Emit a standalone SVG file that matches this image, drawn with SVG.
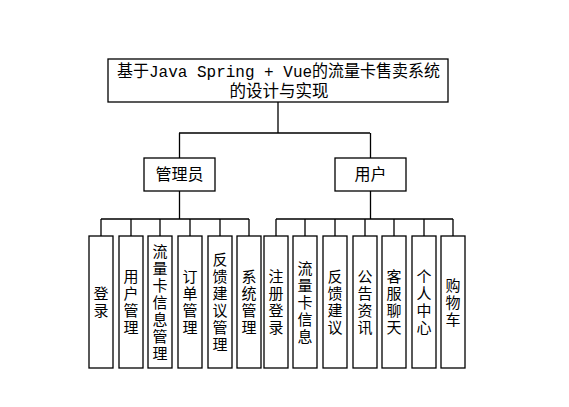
<svg xmlns="http://www.w3.org/2000/svg" width="569" height="407" viewBox="0 0 569 407">
<style>
.box{fill:#fff;stroke:#000;stroke-width:1.3}
.ln{fill:none;stroke:#000;stroke-width:1.3}
.t{font-family:"Noto Sans CJK SC","Liberation Sans",sans-serif;fill:#000;text-anchor:middle}
.tt{font-family:"Liberation Mono","Noto Sans CJK SC",monospace;font-size:16.5px;fill:#000;text-anchor:middle}
.m{font-size:16px}
.v{font-size:15px;writing-mode:vertical-rl;letter-spacing:2px}
</style>
<rect width="569" height="407" fill="#fff"/>
<g id="connectors">
<path class="ln" d="M278 102V133M179 133H370M179.5 133V158M370.5 133V158"/>
<path class="ln" d="M179.5 191V219M101 219H249M101 219V236M131 219V236M160 219V236M190 219V236M220 219V236M249 219V236"/>
<path class="ln" d="M370.5 191V219M276 219H453M276 219V236M305 219V236M335 219V236M365 219V236M394 219V236M424 219V236M453 219V236"/>
</g>
<g id="title">
<rect class="box" x="108" y="59" width="340" height="43"/>
<text class="tt" x="278.5" y="77" textLength="323" lengthAdjust="spacingAndGlyphs">基于Java Spring + Vue的流量卡售卖系统</text>
<text class="tt" x="279" y="97">的设计与实现</text>
</g>
<g id="admin">
<rect class="box" x="144" y="158" width="71" height="33"/>
<text class="t m" x="179.5" y="180">管理员</text>
</g>
<g id="user">
<rect class="box" x="335" y="158" width="71" height="33"/>
<text class="t m" x="370.5" y="180">用户</text>
</g>
<g id="a1"><rect class="box" x="89" y="236" width="24" height="132"/><text class="t v" x="101" y="303">登录</text></g>
<g id="a2"><rect class="box" x="119" y="236" width="24" height="132"/><text class="t v" x="131" y="303">用户管理</text></g>
<g id="a3"><rect class="box" x="148" y="236" width="24" height="132"/><text class="t v" x="160" y="303">流量卡信息管理</text></g>
<g id="a4"><rect class="box" x="178" y="236" width="24" height="132"/><text class="t v" x="190" y="303">订单管理</text></g>
<g id="a5"><rect class="box" x="208" y="236" width="24" height="132"/><text class="t v" x="220" y="303">反馈建议管理</text></g>
<g id="a6"><rect class="box" x="237" y="236" width="24" height="132"/><text class="t v" x="249" y="303">系统管理</text></g>
<g id="u1"><rect class="box" x="264" y="236" width="24" height="132"/><text class="t v" x="276" y="303">注册登录</text></g>
<g id="u2"><rect class="box" x="293" y="236" width="24" height="132"/><text class="t v" x="305" y="303">流量卡信息</text></g>
<g id="u3"><rect class="box" x="323" y="236" width="24" height="132"/><text class="t v" x="335" y="303">反馈建议</text></g>
<g id="u4"><rect class="box" x="353" y="236" width="24" height="132"/><text class="t v" x="365" y="303">公告资讯</text></g>
<g id="u5"><rect class="box" x="382" y="236" width="24" height="132"/><text class="t v" x="394" y="303">客服聊天</text></g>
<g id="u6"><rect class="box" x="412" y="236" width="24" height="132"/><text class="t v" x="424" y="303">个人中心</text></g>
<g id="u7"><rect class="box" x="441" y="236" width="24" height="132"/><text class="t v" x="453" y="303">购物车</text></g>
</svg>
